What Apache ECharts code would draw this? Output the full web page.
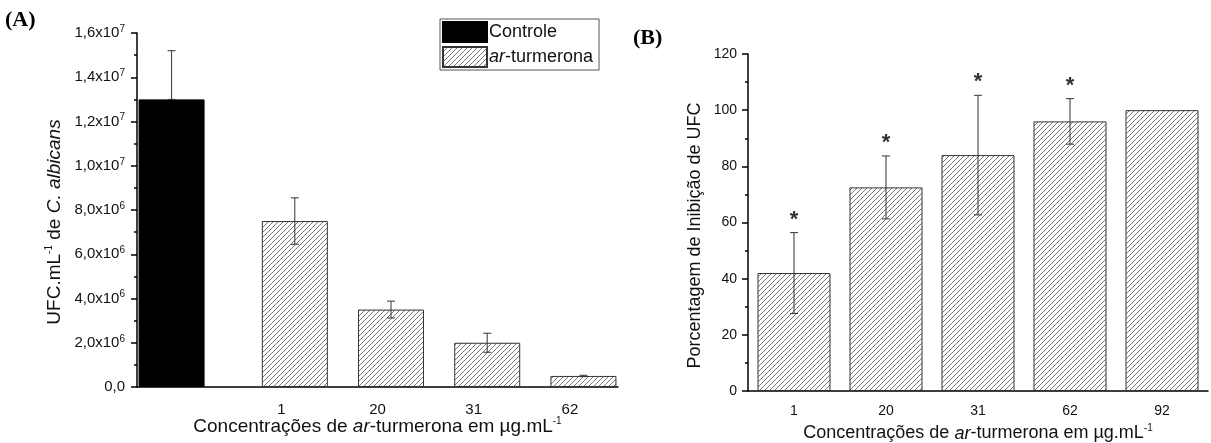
<!DOCTYPE html>
<html>
<head>
<meta charset="utf-8">
<script src="https://cdn.jsdelivr.net/npm/echarts@6/dist/echarts.min.js"></script>
<style>
  html, body { margin: 0; padding: 0; background: #fff; }
  #chart { width: 1211px; height: 443px; }
</style>
</head>
<body>
<div id="chart"></div>
<script>
// dados do painel A (UFC/mL)
const catsA = ['', '1', '20', '31', '62'];
const controle = [13.0e6, '-', '-', '-', '-'];
const controleSd = [2.2e6, 0, 0, 0, 0];
const turmerona = ['-', 7.5e6, 3.5e6, 2.0e6, 0.5e6];
const turmeronaSd = [0, 1.05e6, 0.38e6, 0.43e6, 0.03e6];

// dados do painel B (% inibição)
const catsB = ['1', '20', '31', '62', '92'];
const inibicao = [42, 72.5, 84, 96, 100];
const inibicaoSd = [14.4, 11.2, 21.3, 8.1, 0];
const signif = [true, true, true, true, false];

const FONT = 'Liberation Sans';

// padrão hachurado
function hatch() {
  const s = 5;
  const c = document.createElement('canvas');
  c.width = s; c.height = s;
  const g = c.getContext('2d');
  g.fillStyle = '#fff';
  g.fillRect(0, 0, s, s);
  g.strokeStyle = '#555';
  g.lineWidth = 0.8;
  g.beginPath();
  g.moveTo(0, s); g.lineTo(s, 0);
  g.moveTo(-1, 1); g.lineTo(1, -1);
  g.moveTo(s - 1, s + 1); g.lineTo(s + 1, s - 1);
  g.stroke();
  return { image: c, repeat: 'repeat' };
}
const hatchFill = hatch();

function sciLabel(v) {
  if (v === 0) return '{n|0,0}';
  const e = Math.floor(Math.log10(v) + 1e-9);
  const m = (v / Math.pow(10, e)).toFixed(1).replace('.', ',');
  return '{n|' + m + 'x10}{s|' + e + '}';
}

const labelRich = {
  n: { fontFamily: FONT, fontSize: 15, color: '#111' },
  s: { fontFamily: FONT, fontSize: 10, color: '#111', padding: [0, 0, 8, 0] }
};
function nameRich(size) {
  return {
    t: { fontFamily: FONT, fontSize: size, color: '#111' },
    i: { fontFamily: FONT, fontSize: size, fontStyle: 'italic', color: '#111' },
    s: { fontFamily: FONT, fontSize: Math.round(size * 0.55), color: '#111', padding: [0, 0, Math.round(size * 0.6), 0] }
  };
}

// barras de erro
const errA = [];
controle.forEach((v, i) => { if (v !== '-') errA.push([i, v, v + controleSd[i]]); });
turmerona.forEach((v, i) => { if (v !== '-') errA.push([i, v - turmeronaSd[i], v + turmeronaSd[i]]); });
const errB = inibicao.map((v, i) => [i, v - inibicaoSd[i], v + inibicaoSd[i], signif[i] ? 1 : 0]);

function errShapes(x, yLo, yHi, cap) {
  const st = { stroke: '#333', lineWidth: 1 };
  return [
    { type: 'line', shape: { x1: x, y1: yLo, x2: x, y2: yHi }, style: st },
    { type: 'line', shape: { x1: x - cap, y1: yHi, x2: x + cap, y2: yHi }, style: st },
    { type: 'line', shape: { x1: x - cap, y1: yLo, x2: x + cap, y2: yLo }, style: st }
  ];
}

const axisLine = { lineStyle: { color: '#000', width: 1.5 } };

const myChart = echarts.init(document.getElementById('chart'));
const option = {
  animation: false,
  backgroundColor: '#fff',
  grid: [
    { left: 137, right: 593, top: 33, bottom: 56, outerBoundsMode: 'none', containLabel: false },
    { left: 748, right: 3, top: 54, bottom: 52, outerBoundsMode: 'none', containLabel: false }
  ],
  legend: {
    data: ['Controle', 'ar-turmerona'],
    orient: 'vertical',
    left: 440, top: 19,
    icon: 'rect',
    itemWidth: 44, itemHeight: 20, itemGap: 3,
    padding: [2, 6, 2, 2],
    borderColor: '#555', borderWidth: 1, borderRadius: 0,
    formatter: n => n === 'ar-turmerona' ? '{i|ar}{t|-turmerona}' : '{t|' + n + '}',
    textStyle: { rich: nameRich(18), padding: [0, 0, 0, -3] }
  },
  xAxis: [
    {
      gridIndex: 0, type: 'category', data: catsA,
      axisLine: axisLine,
      axisTick: { alignWithLabel: true, length: 6, lineStyle: { color: '#000', width: 1.5 } },
      axisLabel: { fontFamily: FONT, fontSize: 15, color: '#111', margin: 15 },
      name: '{t|Concentrações de }{i|ar}{t|-turmerona em µg.mL}{s|-1}',
      nameLocation: 'middle', nameGap: 29, nameMoveOverlap: false,
      nameTextStyle: { rich: nameRich(19) }
    },
    {
      gridIndex: 1, type: 'category', data: catsB,
      axisLine: axisLine,
      axisTick: { alignWithLabel: true, length: 6, lineStyle: { color: '#000', width: 1.5 } },
      axisLabel: { fontFamily: FONT, fontSize: 14, color: '#111', margin: 13 },
      name: '{t|Concentrações de }{i|ar}{t|-turmerona em µg.mL}{s|-1}',
      nameLocation: 'middle', nameGap: 32,
      nameTextStyle: { rich: nameRich(18) }
    },
    {
      // ticks menores entre as categorias
      gridIndex: 1, type: 'category', data: catsB, position: 'bottom',
      axisLine: { show: false },
      axisTick: { length: 3, lineStyle: { color: '#000', width: 1.5 } },
      axisLabel: { show: false }
    }
  ],
  yAxis: [
    {
      gridIndex: 0, type: 'value', min: 0, max: 1.6e7, interval: 2e6,
      axisLine: { show: true, lineStyle: { color: '#000', width: 1.5 } },
      axisTick: { show: true, length: 6, lineStyle: { color: '#000', width: 1.5 } },
      minorTick: { show: true, splitNumber: 2, length: 3, lineStyle: { color: '#000', width: 1.5 } },
      splitLine: { show: false },
      axisLabel: { formatter: sciLabel, rich: labelRich, margin: 12 },
      name: '{t|UFC.mL}{s|-1}{t| de }{i|C. albicans}',
      nameLocation: 'middle', nameGap: 72, nameRotate: 90,
      nameTextStyle: { rich: nameRich(19), padding: [0, 24, 0, 0] }
    },
    {
      gridIndex: 1, type: 'value', min: 0, max: 120, interval: 20,
      axisLine: { show: true, lineStyle: { color: '#000', width: 1.5 } },
      axisTick: { show: true, length: 6, lineStyle: { color: '#000', width: 1.5 } },
      minorTick: { show: true, splitNumber: 2, length: 3, lineStyle: { color: '#000', width: 1.5 } },
      splitLine: { show: false },
      axisLabel: { fontFamily: FONT, fontSize: 14, color: '#111', margin: 11 },
      name: '{t|Porcentagem de Inibição de UFC}',
      nameLocation: 'middle', nameGap: 44, nameRotate: 90,
      nameTextStyle: { rich: nameRich(18), padding: [0, 26, 0, 0] }
    }
  ],
  series: [
    {
      name: 'Controle', type: 'bar', xAxisIndex: 0, yAxisIndex: 0,
      data: controle, barWidth: 66, barGap: '-59%',
      itemStyle: { color: '#000', borderColor: '#000', borderWidth: 1 }
    },
    {
      name: 'ar-turmerona', type: 'bar', xAxisIndex: 0, yAxisIndex: 0,
      data: turmerona, barWidth: 66, barGap: '-59%',
      itemStyle: { color: hatchFill, borderColor: '#333', borderWidth: 1 }
    },
    {
      type: 'custom', xAxisIndex: 0, yAxisIndex: 0, data: errA, z: 5,
      encode: { x: 0, y: [1, 2] },
      renderItem: (params, api) => {
        const i = api.value(0);
        const lo = api.coord([i, api.value(1)]);
        const hi = api.coord([i, api.value(2)]);
        const x = lo[0] + (i === 0 ? -13.5 : 13.5);
        return { type: 'group', children: errShapes(x, lo[1], hi[1], 4) };
      }
    },
    {
      name: 'inibicao', type: 'bar', xAxisIndex: 1, yAxisIndex: 1,
      data: inibicao, barWidth: 73,
      itemStyle: { color: hatchFill, borderColor: '#333', borderWidth: 1 }
    },
    {
      type: 'custom', xAxisIndex: 1, yAxisIndex: 1, data: errB, z: 5,
      encode: { x: 0, y: [1, 2] },
      renderItem: (params, api) => {
        const i = api.value(0);
        const lo = api.coord([i, api.value(1)]);
        const hi = api.coord([i, api.value(2)]);
        const kids = [];
        if (api.value(2) - api.value(1) > 0) kids.push(...errShapes(lo[0], lo[1], hi[1], 4));
        if (api.value(3)) {
          kids.push({
            type: 'text',
            style: {
              text: '*', x: lo[0], y: hi[1] - 2,
              align: 'center', verticalAlign: 'bottom',
              font: 'bold 22px ' + FONT, fill: '#333'
            }
          });
        }
        return { type: 'group', children: kids };
      }
    }
  ],
  graphic: [
    { type: 'text', left: 5, top: 9, style: { text: '(A)', font: 'bold 22px Liberation Serif', fill: '#000' } },
    { type: 'text', left: 633, top: 27, style: { text: '(B)', font: 'bold 22px Liberation Serif', fill: '#000' } }
  ]
};
myChart.setOption(option);
</script>
</body>
</html>
